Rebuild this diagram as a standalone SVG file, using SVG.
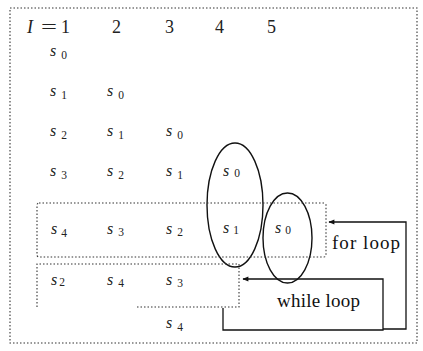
<svg xmlns="http://www.w3.org/2000/svg" width="423" height="351" viewBox="0 0 423 351">
<style>
.bg{fill:#ffffff}
.dot{fill:none;stroke:#333;stroke-width:1.1;stroke-dasharray:1.5 2}
.ell{fill:none;stroke:#111;stroke-width:1.4}
.con{fill:none;stroke:#111;stroke-width:1.3}
.t{fill:#222}
.v{font-size:16px;font-style:italic}
.sub{font-size:11.5px;font-style:normal}
.hd{font-size:18px;fill:#222}
.lbl{font-size:19px;fill:#111}
</style>
<defs>
<marker id="ah" viewBox="0 0 10 10" refX="9" refY="5" markerWidth="8" markerHeight="6" orient="auto" markerUnits="userSpaceOnUse">
<path d="M0,1 L10,5 L0,9 Z" fill="#111"/>
</marker>
</defs>
<rect class="bg" x="0" y="0" width="423" height="351"/>
<rect id="frame" class="dot" x="10" y="8" width="407" height="335"/>

<g font-family="'Liberation Serif', 'Times New Roman', serif">
<g id="header" class="t hd">
<text x="27" y="33"><tspan font-style="italic">I</tspan><tspan x="41" textLength="16" lengthAdjust="spacingAndGlyphs">=</tspan><tspan x="61">1</tspan></text>
<text x="112" y="33">2</text>
<text x="165" y="33">3</text>
<text x="215" y="33">4</text>
<text x="267" y="33">5</text>
</g>

<g id="row1" class="t">
<text id="r1c1" x="50" y="56"><tspan class="v">s</tspan><tspan class="sub" dx="5" dy="3">0</tspan></text>
</g>
<g id="row2" class="t">
<text id="r2c1" x="50" y="96"><tspan class="v">s</tspan><tspan class="sub" dx="5" dy="3">1</tspan></text>
<text id="r2c2" x="107" y="96"><tspan class="v">s</tspan><tspan class="sub" dx="5" dy="3">0</tspan></text>
</g>
<g id="row3" class="t">
<text id="r3c1" x="50" y="136"><tspan class="v">s</tspan><tspan class="sub" dx="5" dy="3">2</tspan></text>
<text id="r3c2" x="107" y="136"><tspan class="v">s</tspan><tspan class="sub" dx="5" dy="3">1</tspan></text>
<text id="r3c3" x="166" y="136"><tspan class="v">s</tspan><tspan class="sub" dx="5" dy="3">0</tspan></text>
</g>
<g id="row4" class="t">
<text id="r4c1" x="50" y="176"><tspan class="v">s</tspan><tspan class="sub" dx="5" dy="3">3</tspan></text>
<text id="r4c2" x="107" y="176"><tspan class="v">s</tspan><tspan class="sub" dx="5" dy="3">2</tspan></text>
<text id="r4c3" x="166" y="176"><tspan class="v">s</tspan><tspan class="sub" dx="5" dy="3">1</tspan></text>
<text id="r4c4" x="223" y="176"><tspan class="v">s</tspan><tspan class="sub" dx="5" dy="1">0</tspan></text>
</g>
<g id="row5" class="t">
<text id="r5c1" x="51" y="234"><tspan class="v">s</tspan><tspan class="sub" dx="4" dy="3">4</tspan></text>
<text id="r5c2" x="107" y="234"><tspan class="v">s</tspan><tspan class="sub" dx="5" dy="2">3</tspan></text>
<text id="r5c3" x="166" y="234"><tspan class="v">s</tspan><tspan class="sub" dx="5" dy="2">2</tspan></text>
<text id="r5c4" x="223" y="233"><tspan class="v">s</tspan><tspan class="sub" dx="4" dy="1">1</tspan></text>
<text id="r5c5" x="275" y="233"><tspan class="v">s</tspan><tspan class="sub" dx="4" dy="1">0</tspan></text>
</g>
<g id="row6" class="t">
<text id="r6c1" x="51" y="285"><tspan class="v">s</tspan><tspan class="sub" dx="2" dy="1" font-size="15">2</tspan></text>
<text id="r6c2" x="107" y="285"><tspan class="v">s</tspan><tspan class="sub" dx="5" dy="2">4</tspan></text>
<text id="r6c3" x="166" y="285"><tspan class="v">s</tspan><tspan class="sub" dx="5" dy="2">3</tspan></text>
</g>
<g id="row7" class="t">
<text id="r7c3" x="166" y="328"><tspan class="v">s</tspan><tspan class="sub" dx="5" dy="3">4</tspan></text>
</g>

<g id="forLabel"><text class="lbl" x="332" y="249" textLength="68" lengthAdjust="spacing">for loop</text></g>
<g id="whileLabel"><text class="lbl" x="277" y="307" textLength="83" lengthAdjust="spacing">while loop</text></g>
</g>

<g id="ellipse1"><ellipse class="ell" cx="235" cy="205" rx="28" ry="62"/></g>
<g id="ellipse2"><ellipse class="ell" cx="287.5" cy="238" rx="24.5" ry="45"/></g>

<g id="forBox"><rect class="dot" x="37" y="203" width="289" height="54" rx="2"/></g>
<g id="whileBox"><path class="dot" d="M37,307 V264 H239 V307 H135"/></g>

<g id="connectors">
<path class="con" d="M383,329 H406 V222 H329" marker-end="url(#ah)"/>
<path class="con" d="M223,308 V330 H383 V279 H243" marker-end="url(#ah)"/>
</g>
</svg>
